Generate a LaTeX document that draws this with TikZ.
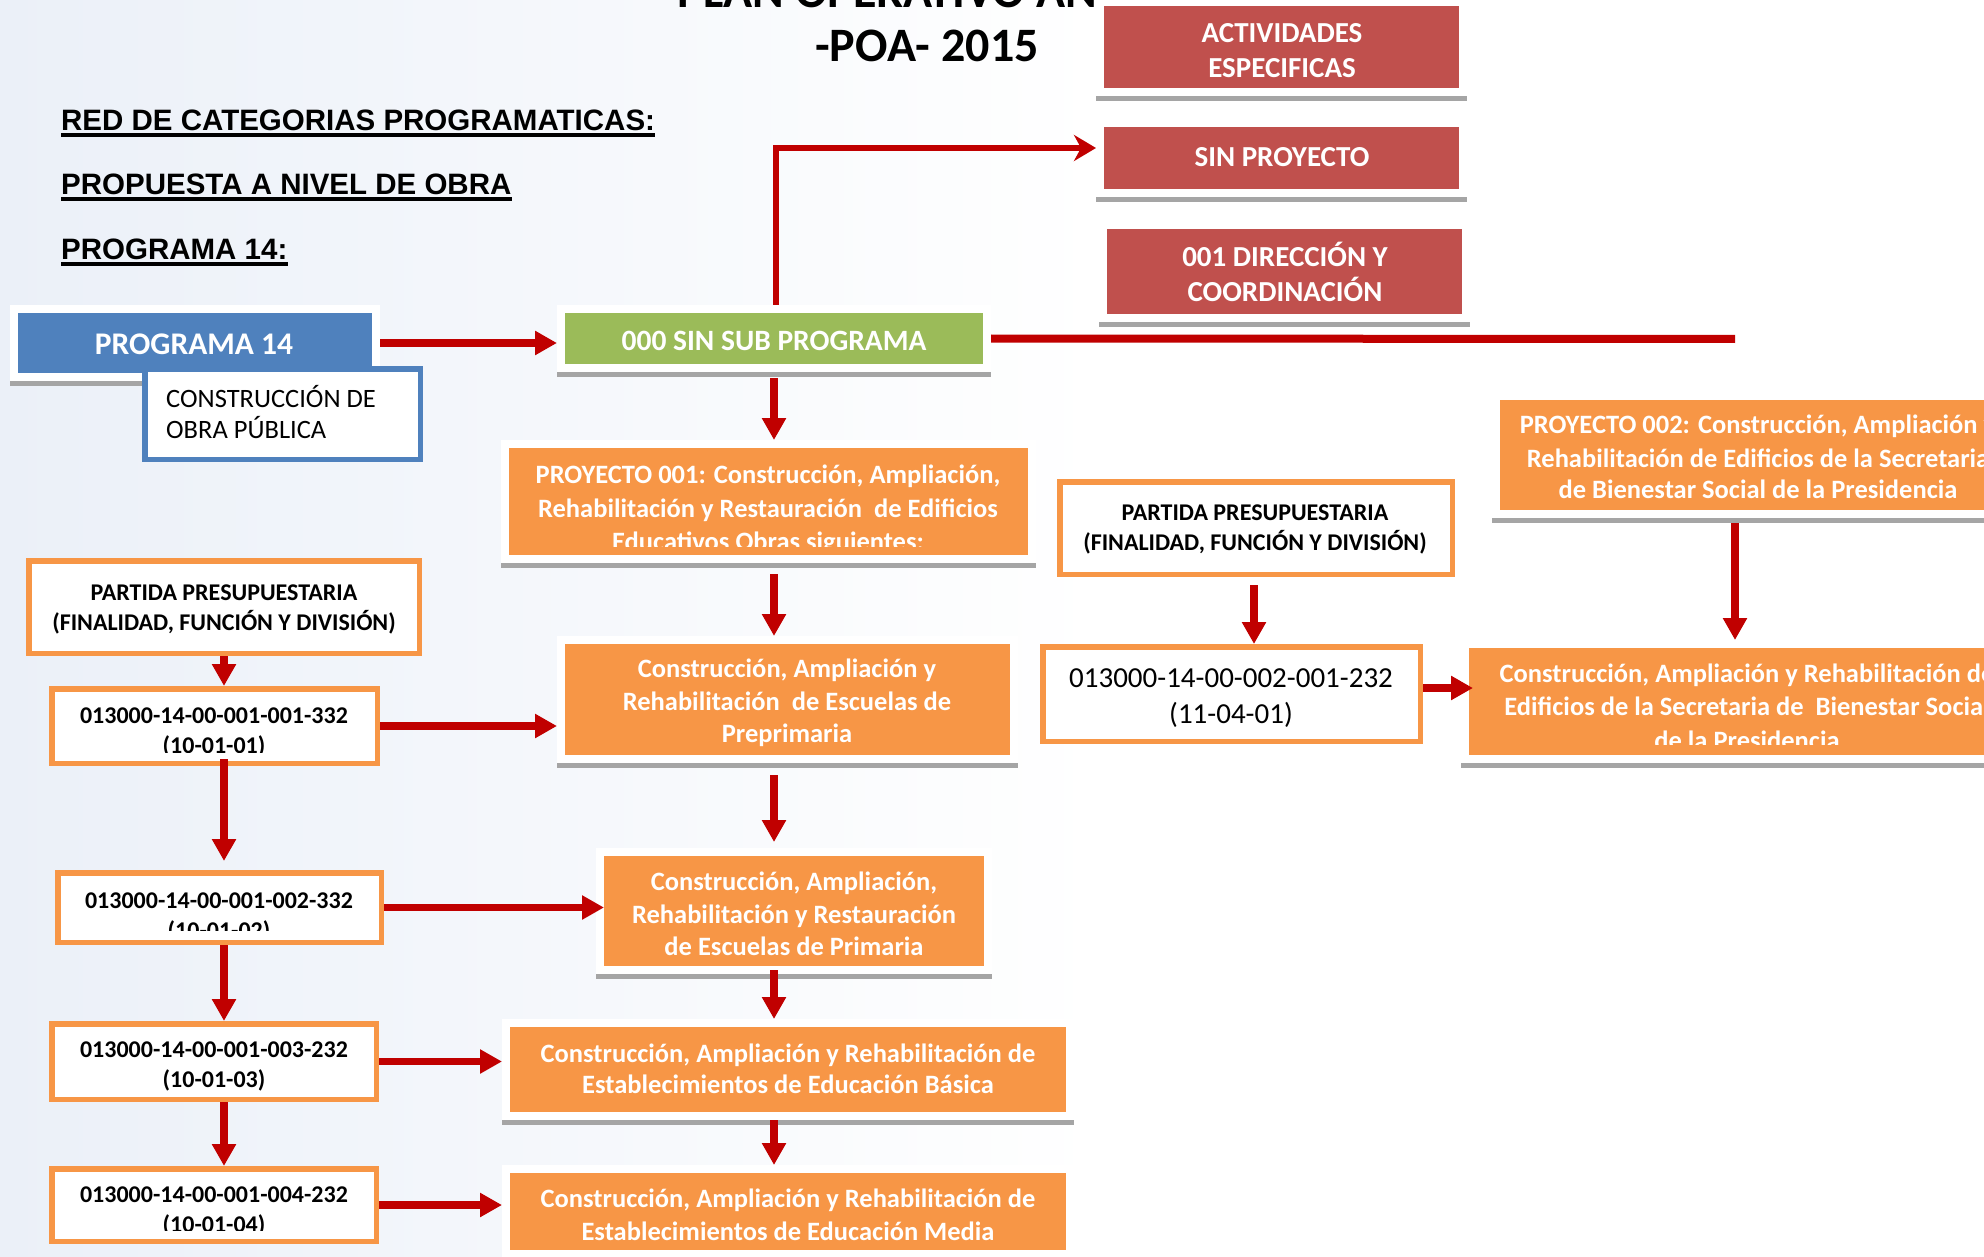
\documentclass[tikz,border=0pt]{standalone}
\usepackage{fontspec}
\setmainfont{Carlito}
\newfontfamily\hfont{Liberation Sans}
\usetikzlibrary{arrows.meta,calc,fit}
\definecolor{redbox}{HTML}{C0504D}
\definecolor{bluebox}{HTML}{4F81BD}
\definecolor{greenbox}{HTML}{9BBB59}
\definecolor{orangebox}{HTML}{F79646}
\definecolor{arrred}{HTML}{C00000}
\definecolor{shadowgray}{HTML}{A5A5A5}
\definecolor{bgblue}{RGB}{235,240,248}
\newcommand\fsz[1]{\fontsize{#1}{#1}\selectfont}
% coloured box with white frame and grey bottom bar: name, x1, y1, x2, y2, colour
\newcommand\cbox[6]{%
  \fill[shadowgray] (#2-8,#5+8) rectangle (#4+8,#5+13);
  \node[fill=white, inner sep=0, outer sep=0, fit={(#2-8,#3-8) (#4+8,#5+8)}] (#1F) {};
  \node[fill=#6, inner sep=0, outer sep=0, fit={(#2,#3) (#4,#5)}] (#1) {};
}
% white box with coloured border: name, outer x1, y1, x2, y2, colour
\newcommand\wbox[6]{%
  \node[draw=#6, line width=5.5pt, fill=white, inner sep=0, fit={(#2+2.75,#3+2.75) (#4-2.75,#5-2.75)}] (#1) {};
}
\begin{document}
\begin{tikzpicture}[x=1pt,y=-1pt,
  wtxt/.style={anchor=base, inner sep=0, text=white, font=\fsz{26.5}\bfseries},
  btxt/.style={anchor=base, inner sep=0, text=black, font=\fsz{24}\bfseries},
  ptxt/.style={anchor=base, inner sep=0, text=black, font=\fsz{24}\bfseries},
  rtxt/.style={anchor=base, inner sep=0, text=white, font=\fsz{29}\bfseries},
  head/.style={anchor=base west, inner sep=0, font=\hfont\bfseries\fsz{29.5}},
  uline/.style={line width=3.5pt},
  arr/.style={draw=arrred, line width=7.5pt, -{Triangle[length=22pt,width=23pt]}},
  thinarr/.style={draw=arrred, line width=5.5pt, -{Stealth[length=22pt,width=26pt,inset=7pt]}},
  redbar/.style={draw=arrred, line width=8pt},
]
\useasboundingbox (0,0) rectangle (1984,1257);
\clip (0,0) rectangle (1984,1257);
% background
\fill[white] (0,0) rectangle (1984,1257);
\shade[left color=bgblue, right color=white] (0,0) rectangle (1100,1257);

% title
\node[anchor=base, inner sep=0, font=\fsz{48}\bfseries] (title1) at (927,8) {PLAN OPERATIVO ANUAL};
\node[anchor=base, inner sep=0, font=\fsz{48}\bfseries] (title2) at (927,62) {-POA- 2015};

% headings
\node[head] (h1) at (61,131) {RED DE CATEGORIAS PROGRAMATICAS:};
\node[head] (h2) at (61,195) {PROPUESTA A NIVEL DE OBRA};
\node[head] (h3) at (61,260) {PROGRAMA 14:};
\draw[uline] ($(h1.base west)+(0,4)$) -- ($(h1.base east)+(0,4)$);
\draw[uline] ($(h2.base west)+(0,4)$) -- ($(h2.base east)+(0,4)$);
\draw[uline] ($(h3.base west)+(0,4)$) -- ($(h3.base east)+(0,4)$);

% coloured boxes
\cbox{act}{1104}{6}{1459}{88}{redbox}
\cbox{sinp}{1104}{127}{1459}{189}{redbox}
\cbox{dir}{1107}{229}{1462}{314}{redbox}
\cbox{prog}{18}{313}{372}{373}{bluebox}
\cbox{sub}{565}{313}{983}{364}{greenbox}
\cbox{pone}{509}{448}{1028}{555}{orangebox}
\cbox{pre}{565}{644}{1010}{755}{orangebox}
\cbox{pri}{604}{856}{984}{966}{orangebox}
\cbox{bas}{510}{1027}{1066}{1112}{orangebox}
\cbox{med}{510}{1173}{1066}{1250}{orangebox}
\cbox{ptwo}{1500}{400}{2016}{510}{orangebox}
\cbox{edi}{1469}{648}{2025}{755}{orangebox}

% white bordered boxes
\wbox{cons}{142}{366}{423}{462}{bluebox}
\wbox{partL}{26}{558}{422}{656}{orangebox}
\wbox{cA}{49}{686}{380}{766}{orangebox}
\wbox{cB}{55}{870}{384}{945}{orangebox}
\wbox{cC}{49}{1021}{379}{1102}{orangebox}
\wbox{cD}{49}{1166}{379}{1244}{orangebox}
\wbox{partR}{1057}{479}{1455}{577}{orangebox}
\wbox{cR}{1040}{644}{1423}{744}{orangebox}

% texts in red boxes
\node[rtxt] (actt1) at (1282,43) {ACTIVIDADES};
\node[rtxt] (actt2) at (1282,78) {ESPECIFICAS};
\node[rtxt] (sinpt) at (1282,167) {SIN PROYECTO};
\node[rtxt] (dirt1) at (1285,267) {001 DIRECCIÓN Y};
\node[rtxt] (dirt2) at (1285,302) {COORDINACIÓN};

% programa / subprograma
\node[anchor=base, inner sep=0, text=white, font=\fsz{31.5}\bfseries] (progt) at (194,355) {PROGRAMA 14};
\node[anchor=base, inner sep=0, text=white, font=\fsz{29.5}\bfseries] (subt) at (774,350) {000 SIN SUB PROGRAMA};
\node[anchor=base west, inner sep=0, font=\fsz{26.5}] (const1) at (166,407) {CONSTRUCCIÓN DE};
\node[anchor=base west, inner sep=0, font=\fsz{26.5}] (const2) at (166,438) {OBRA PÚBLICA};

% proyecto 001
\begin{scope}
\clip (509,448) rectangle (1028,546);
\node[wtxt] (ponet1) at (768,483) {PROYECTO 001: Construcción, Ampliación,};
\node[wtxt] (ponet2) at (768,517) {Rehabilitación y Restauración~ de Edificios};
\node[wtxt] (ponet3) at (768,550) {Educativos Obras siguientes:};
\end{scope}

% preprimaria
\begin{scope}
\clip (565,644) rectangle (1010,746);
\node[wtxt] (pret1) at (787,677) {Construcción, Ampliación y};
\node[wtxt] (pret2) at (787,710) {Rehabilitación~ de Escuelas de};
\node[wtxt] (pret3) at (787,742) {Preprimaria};
\end{scope}

% primaria
\node[wtxt] (prit1) at (794,890) {Construcción, Ampliación,};
\node[wtxt] (prit2) at (794,923) {Rehabilitación y Restauración};
\node[wtxt] (prit3) at (794,955) {de Escuelas de Primaria};

% basica / media
\node[wtxt] (bast1) at (788,1062) {Construcción, Ampliación y Rehabilitación de};
\node[wtxt] (bast2) at (788,1093) {Establecimientos de Educación Básica};
\node[wtxt] (medt1) at (788,1207) {Construcción, Ampliación y Rehabilitación de};
\node[wtxt] (medt2) at (788,1240) {Establecimientos de Educación Media};

% partidas left
\node[ptxt] (partLt1) at (224,600) {PARTIDA PRESUPUESTARIA};
\node[ptxt] (partLt2) at (224,630) {(FINALIDAD, FUNCIÓN Y DIVISIÓN)};
\begin{scope}
\clip (55,690) rectangle (375,752);
\node[btxt] (cAt1) at (214,723) {013000-14-00-001-001-332};
\node[btxt] (cAt2) at (214,753) {(10-01-01)};
\end{scope}
\begin{scope}
\clip (60,875) rectangle (380,930);
\node[btxt] (cBt1) at (219,908) {013000-14-00-001-002-332};
\node[btxt] (cBt2) at (219,938) {(10-01-02)};
\end{scope}
\node[btxt] (cCt1) at (214,1057) {013000-14-00-001-003-232};
\node[btxt] (cCt2) at (214,1087) {(10-01-03)};
\begin{scope}
\clip (55,1170) rectangle (375,1230);
\node[btxt] (cDt1) at (214,1202) {013000-14-00-001-004-232};
\node[btxt] (cDt2) at (214,1232) {(10-01-04)};
\end{scope}

% right side
\node[ptxt] (partRt1) at (1255,520) {PARTIDA PRESUPUESTARIA};
\node[ptxt] (partRt2) at (1255,550) {(FINALIDAD, FUNCIÓN Y DIVISIÓN)};
\node[anchor=base, inner sep=0, font=\fsz{29}] (cRt1) at (1231,687) {013000-14-00-002-001-232};
\node[anchor=base, inner sep=0, font=\fsz{29}] (cRt2) at (1231,723) {(11-04-01)};
\node[wtxt] (ptwot1) at (1758,433) {PROYECTO 002: Construcción, Ampliación y};
\node[wtxt] (ptwot2) at (1758,467) {Rehabilitación de Edificios de la Secretaria};
\node[wtxt] (ptwot3) at (1758,498) {de Bienestar Social de la Presidencia};
\begin{scope}
\clip (1469,648) rectangle (2025,744);
\node[wtxt] (edit1) at (1747,682) {Construcción, Ampliación y Rehabilitación de};
\node[wtxt] (edit2) at (1747,715) {Edificios de la Secretaria de~ Bienestar Social};
\node[wtxt] (edit3) at (1747,749) {de la Presidencia};
\end{scope}

% connectors
\coordinate (colL) at (224,0);
\coordinate (colM) at (774,0);
\coordinate (colR) at (1254,0);
\coordinate (colP) at (1735,0);
\coordinate (endR) at (1735,339);
\coordinate (cRo) at ($(cR.east)+(0,-6)$);

\draw[arr] (progF.east) -- (progF.east -| subF.west);
\draw[redbar] (subF.east) -- (endR);
\draw[thinarr] ($(subF.north)+(2,0)$) |- ($(sinpF.west)+(0,-10)$);

\draw[arr, shorten <=6pt] (subF.south -| colM) -- (poneF.north -| colM);
\draw[arr, shorten <=11pt] (poneF.south -| colM) -- (preF.north -| colM);
\draw[arr, shorten <=12pt, shorten >=6pt] (preF.south -| colM) -- (priF.north -| colM);
\draw[arr, shorten <=-4pt] (priF.south -| colM) -- (basF.north -| colM);
\draw[arr] (basF.south -| colM) -- (medF.north -| colM);

\draw[arr] (partL.south -| colL) -- (cA.north -| colL);
\draw[arr, shorten <=-7pt, shorten >=9pt] (cA.south -| colL) -- (cB.north -| colL);
\draw[arr] (cB.south -| colL) -- (cC.north -| colL);
\draw[arr] (cC.south -| colL) -- (cD.north -| colL);

\draw[arr] (cA.east) -- (cA.east -| preF.west);
\draw[arr] (cB.east) -- (cB.east -| pri.west);
\draw[arr] (cC.east) -- (cC.east -| basF.west);
\draw[arr] (cD.east) -- (cD.east -| medF.west);

\draw[arr, shorten <=8pt] (partR.south -| colR) -- (cR.north -| colR);
\draw[arr, shorten <=5pt] (ptwoF.south -| colP) -- (ediF.north -| colP);
\draw[arr, shorten >=-4pt] (cRo) -- (cRo -| edi.west);
\end{tikzpicture}
\end{document}
